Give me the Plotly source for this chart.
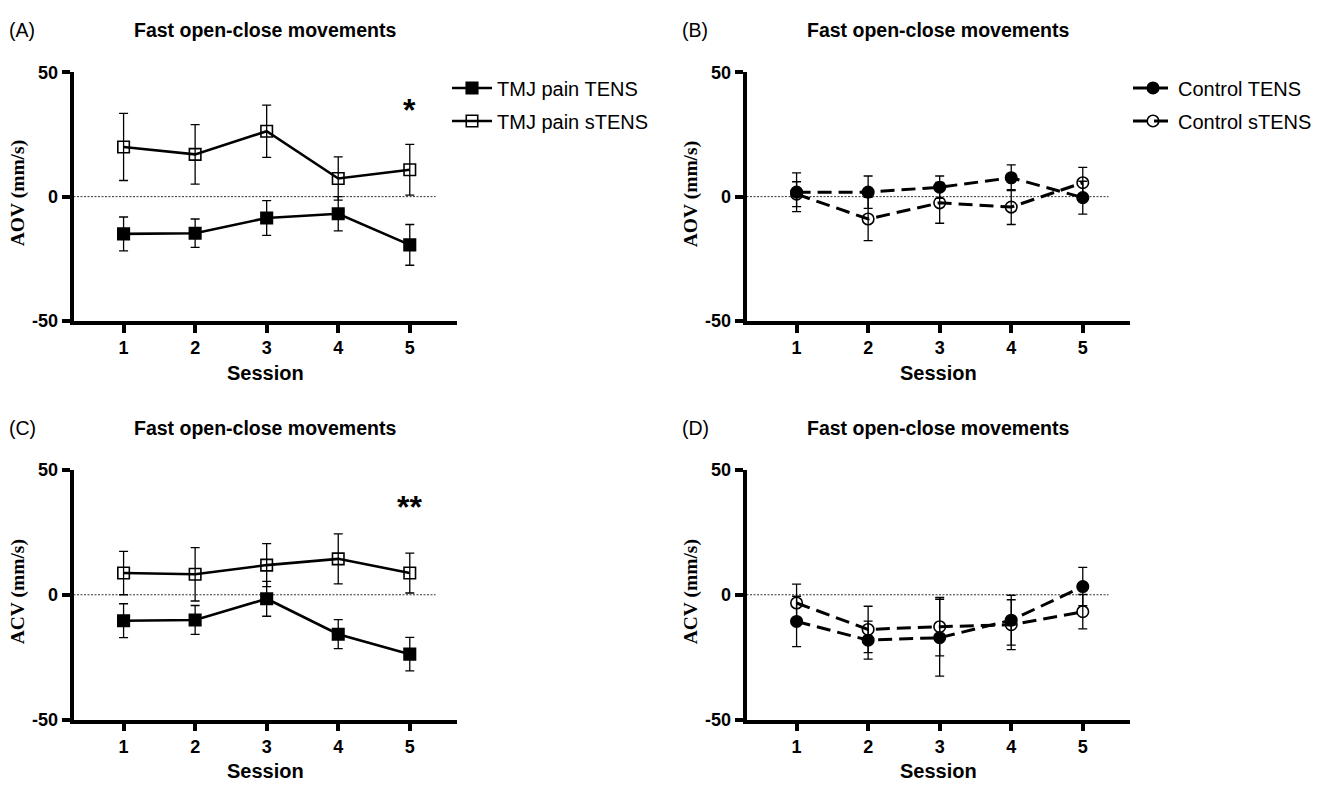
import plotly.graph_objects as go

W, H = 1327, 788

sessions = [1, 2, 3, 4, 5]

# Panel A: AOV, TMJ pain group
aov_tmj_tens = [-15.0, -14.7, -8.6, -6.9, -19.4]
aov_tmj_tens_err = [6.8, 5.7, 7.0, 6.9, 8.2]
aov_tmj_stens = [20.0, 17.0, 26.3, 7.3, 10.8]
aov_tmj_stens_err = [13.5, 12.0, 10.5, 8.7, 10.2]

# Panel B: AOV, control group
aov_ctl_tens = [1.8, 1.8, 3.8, 7.6, -0.4]
aov_ctl_tens_err = [7.8, 6.5, 4.5, 5.2, 6.6]
aov_ctl_stens = [1.0, -9.0, -2.5, -4.2, 5.6]
aov_ctl_stens_err = [5.0, 8.7, 8.2, 7.0, 6.2]

# Panel C: ACV, TMJ pain group
acv_tmj_tens = [-10.4, -10.1, -1.6, -15.8, -23.8]
acv_tmj_tens_err = [6.8, 5.8, 7.0, 5.8, 6.7]
acv_tmj_stens = [8.7, 8.2, 11.9, 14.4, 8.7]
acv_tmj_stens_err = [8.7, 10.7, 8.6, 10.0, 8.0]

# Panel D: ACV, control group
acv_ctl_tens = [-10.7, -18.2, -17.2, -10.2, 3.3]
acv_ctl_tens_err = [10.1, 7.6, 15.4, 10.0, 7.7]
acv_ctl_stens = [-3.3, -13.9, -12.8, -12.0, -6.8]
acv_ctl_stens_err = [7.6, 9.3, 11.7, 10.0, 6.9]

y_ticks = [-50, 0, 50]
y_tick_labels = ["-50", "0", "50"]
x_range = [0.3, 5.66]
zero_line_end = 5.36

panel_title = "Fast open-close movements"
panel_letters = ["(A)", "(B)", "(C)", "(D)"]
y_titles = ["AOV (mm/s)", "AOV (mm/s)", "ACV (mm/s)", "ACV (mm/s)"]
x_title = "Session"
stars = {"A": "*", "C": "**"}

SANS = "Liberation Sans, Arial, sans-serif"
SERIF = "Liberation Serif, Times New Roman, serif"

fig = go.Figure()

# pixel geometry of the four plot areas: (left, right, top, bottom)
boxes = {
    "A": (73.5, 457, 64, 319),
    "B": (746.5, 1130, 64, 319),
    "C": (73.5, 457, 472, 728),
    "D": (746.5, 1130, 472, 728),
}
axis_ids = {"A": ("x", "y"), "B": ("x2", "y2"), "C": ("x3", "y3"), "D": ("x4", "y4")}


def add_series(panel, y, err, name, symbol, dash, legend, showlegend):
    xa, ya = axis_ids[panel]
    fig.add_trace(go.Scatter(
        x=sessions, y=y, name=name, xaxis=xa, yaxis=ya,
        mode="lines+markers",
        line=dict(color="black", width=2.6 if dash == "solid" else 3, dash=dash),
        marker=dict(symbol=symbol, size=11.5, color="black",
                    line=dict(color="black", width=1.6)),
        error_y=dict(type="data", array=err, visible=True, color="black",
                     thickness=1.3, width=4.5),
        legend=legend, legendgroup=name, showlegend=showlegend,
    ))


DASH = "14px,7px"
add_series("A", aov_tmj_tens, aov_tmj_tens_err, "TMJ pain TENS", "square", "solid", "legend", True)
add_series("A", aov_tmj_stens, aov_tmj_stens_err, "TMJ pain sTENS", "square-open", "solid", "legend", True)
add_series("B", aov_ctl_tens, aov_ctl_tens_err, "Control TENS", "circle", DASH, "legend2", True)
add_series("B", aov_ctl_stens, aov_ctl_stens_err, "Control sTENS", "circle-open", DASH, "legend2", True)
add_series("C", acv_tmj_tens, acv_tmj_tens_err, "TMJ pain TENS", "square", "solid", "legend", False)
add_series("C", acv_tmj_stens, acv_tmj_stens_err, "TMJ pain sTENS", "square-open", "solid", "legend", False)
add_series("D", acv_ctl_tens, acv_ctl_tens_err, "Control TENS", "circle", DASH, "legend2", False)
add_series("D", acv_ctl_stens, acv_ctl_stens_err, "Control sTENS", "circle-open", DASH, "legend2", False)

legend_common = dict(yanchor="top", xanchor="left",
                     font=dict(family=SANS, size=20, color="black"),
                     bgcolor="rgba(0,0,0,0)", tracegroupgap=4, itemwidth=40,
                     traceorder="grouped")
layout = dict(
    width=W, height=H, margin=dict(l=0, r=0, t=0, b=0),
    paper_bgcolor="white", plot_bgcolor="white",
    font=dict(family=SANS, color="black"),
    legend=dict(x=447 / W, y=1 - 60 / H, **legend_common),
    legend2=dict(x=1128 / W, y=1 - 60 / H, **legend_common),
)

annotations = []
shapes = []
for i, panel in enumerate(["A", "B", "C", "D"]):
    l, r, t, b = boxes[panel]
    xa, ya = axis_ids[panel]
    xkey = "xaxis" + xa[1:]
    ykey = "yaxis" + ya[1:]
    layout[xkey] = dict(
        domain=[l / W, r / W], range=x_range, anchor=ya,
        showline=True, linewidth=3.6, linecolor="black",
        ticks="outside", ticklen=8, tickwidth=3.6, tickcolor="black",
        tickvals=sessions, ticktext=["<b>%d</b>" % s for s in sessions],
        tickfont=dict(family=SANS, size=18, color="black"),
        showgrid=False, zeroline=False, fixedrange=True,
    )
    layout[ykey] = dict(
        domain=[1 - b / H, 1 - t / H], range=[-50, 50], anchor=xa,
        showline=True, linewidth=3.6, linecolor="black",
        ticks="outside", ticklen=8, tickwidth=3.6, tickcolor="black",
        tickvals=y_ticks, ticktext=["<b>%s</b>" % s for s in y_tick_labels],
        tickfont=dict(family=SANS, size=18, color="black"),
        showgrid=False, zeroline=False, fixedrange=True,
    )
    cx = (l + r) / 2
    # panel title
    annotations.append(dict(text="<b>%s</b>" % panel_title, x=cx / W, y=1 - (t - 43) / H,
                            xref="paper", yref="paper", showarrow=False,
                            xanchor="center", yanchor="middle",
                            font=dict(family=SANS, size=19.5, color="black")))
    # panel letter
    annotations.append(dict(text=panel_letters[i], x=(l - 67) / W, y=1 - (t - 43) / H,
                            xref="paper", yref="paper", showarrow=False,
                            xanchor="left", yanchor="middle",
                            font=dict(family=SANS, size=19.5, color="black")))
    # y title
    annotations.append(dict(text="<b>%s</b>" % y_titles[i], x=(l - 56) / W,
                            y=1 - ((t + b) / 2 - 3) / H,
                            xref="paper", yref="paper", showarrow=False, textangle=-90,
                            xanchor="center", yanchor="middle",
                            font=dict(family=SERIF, size=19.5, color="black")))
    # x title
    annotations.append(dict(text="<b>%s</b>" % x_title, x=cx / W, y=1 - (b + 53) / H,
                            xref="paper", yref="paper", showarrow=False,
                            xanchor="center", yanchor="middle",
                            font=dict(family=SANS, size=20, color="black")))
    # zero reference line
    shapes.append(dict(type="line", xref=xa, yref=ya, x0=x_range[0], x1=zero_line_end,
                       y0=0, y1=0, layer="below",
                       line=dict(color="#333333", width=1, dash="2px,1.5px")))
    if panel in stars:
        annotations.append(dict(text="<b>%s</b>" % stars[panel], x=5, y=35, xref=xa, yref=ya,
                                showarrow=False, xanchor="center", yanchor="middle",
                                font=dict(family=SANS, size=32, color="black")))

layout["annotations"] = annotations
layout["shapes"] = shapes
fig.update_layout(**layout)

fig.write_html("out.html")
